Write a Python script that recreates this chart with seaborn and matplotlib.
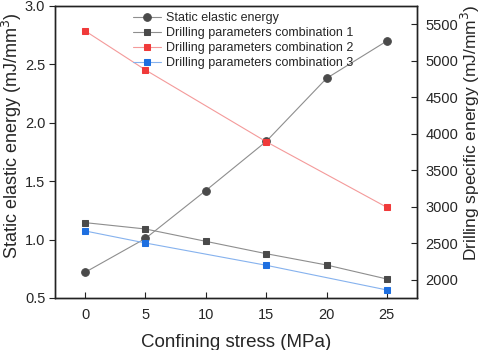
import matplotlib
matplotlib.use("Agg")
import matplotlib.pyplot as plt
import seaborn as sns
import pandas as pd

# confining stress (MPa)
stress = [0, 5, 10, 15, 20, 25]
stress_sub = [0, 5, 15, 25]

# left axis: static elastic energy (mJ/mm3)
static_energy = [0.72, 1.01, 1.42, 1.84, 2.38, 2.70]

# right axis: drilling specific energy (mJ/mm3)
combo1 = [2782, 2695, 2526, 2357, 2202, 2010]
combo2 = [5408, 4873, 3891, 2992]
combo3 = [2668, 2503, 2198, 1860]

sns.set_style("ticks")
plt.rcParams['font.family'] = ['Liberation Sans', 'DejaVu Sans']

fig = plt.figure(figsize=(4.84, 3.5), dpi=100)
ax = fig.add_axes([0.1136, 0.1486, 0.748, 0.8344])
ax2 = ax.twinx()

gray_line, gray_mk = "#8e8e8e", "#4a4a4a"
red_line, red_mk = "#f49a9a", "#f03a3a"
blue_line, blue_mk = "#86b2ee", "#1e6fe0"

def draw(a, x, y, line_c, mk_c, marker, label):
    df = pd.DataFrame({"x": x, "y": y})
    sns.lineplot(data=df, x="x", y="y", ax=a, color=line_c, linewidth=0.8,
                 marker=marker, markersize=5.5 if marker == "o" else 5,
                 markerfacecolor=mk_c, markeredgecolor=mk_c, label=label, legend=False)

draw(ax, stress, static_energy, gray_line, gray_mk, "o", "Static elastic energy")
draw(ax2, stress, combo1, gray_line, gray_mk, "s", "Drilling parameters combination 1")
draw(ax2, stress_sub, combo2, red_line, red_mk, "s", "Drilling parameters combination 2")
draw(ax2, stress_sub, combo3, blue_line, blue_mk, "s", "Drilling parameters combination 3")

ax.set_xlim(-2.5, 27.5)
ax.set_ylim(0.5, 3.0)
ax2.set_ylim(1750, 5750)
ax.set_xticks([0, 5, 10, 15, 20, 25])
ax.set_yticks([0.5, 1.0, 1.5, 2.0, 2.5, 3.0])
ax2.set_yticks([2000, 2500, 3000, 3500, 4000, 4500, 5000, 5500])

ax.set_xlabel("Confining stress (MPa)", fontsize=13.5, labelpad=9)
ax.set_ylabel("Static elastic energy (mJ/mm$^3$)", fontsize=13)
ax2.set_ylabel("Drilling specific energy (mJ/mm$^3$)", fontsize=12.5)
ax.yaxis.set_label_coords(-0.086, 0.5565)
ax2.yaxis.set_label_coords(1.116, 0.567)

for a in (ax, ax2):
    a.tick_params(length=4, width=0.8, labelsize=10.5, color="#222222")
    for s in a.spines.values():
        s.set_linewidth(1.0)
        s.set_color("#222222")
ax.tick_params(axis="x", direction="in", pad=7)
ax.tick_params(axis="y", direction="out", pad=3)
ax2.tick_params(axis="y", direction="in", pad=6)

h1, l1 = ax.get_legend_handles_labels()
h2, l2 = ax2.get_legend_handles_labels()
ax2.legend(h1 + h2, l1 + l2, loc="upper left", bbox_to_anchor=(0.195, 1.005),
           frameon=False, fontsize=9, handlelength=2.2, handletextpad=0.4,
           labelspacing=0.25, borderaxespad=0.2)

fig.savefig("out.png", dpi=100)
